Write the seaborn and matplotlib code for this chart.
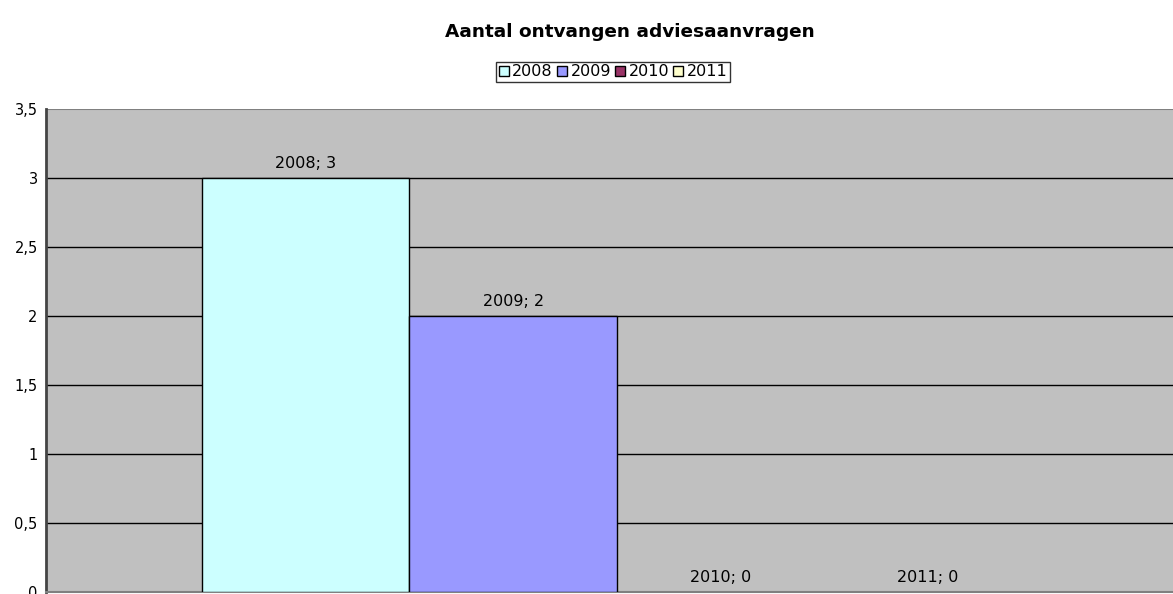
import pandas as pd
import matplotlib.pyplot as plt
import seaborn as sns
from matplotlib.patches import Patch

# --- data ---
jaren = ['2008', '2009', '2010', '2011']
aantallen = [3, 2, 0, 0]
kleuren = ['#CCFFFF', '#9999FF', '#993366', '#FFFFCC']
titel = 'Aantal ontvangen adviesaanvragen'
yticks = [0, 0.5, 1, 1.5, 2, 2.5, 3, 3.5]

df = pd.DataFrame({'groep': ['a'] * len(jaren), 'jaar': jaren, 'aantal': aantallen})

sns.set_style('white')
plt.rcParams['font.family'] = ['DejaVu Sans']
plt.rcParams['text.color'] = 'black'
plt.rcParams['ytick.color'] = 'black'

fig = plt.figure(figsize=(11.73, 5.94), dpi=100)
ax = fig.add_axes([46 / 1173, 2 / 594, 1127 / 1173, 483 / 594])
ax.set_facecolor('#C0C0C0')

sns.barplot(data=df, x='groep', y='aantal', hue='jaar', hue_order=jaren,
            palette=kleuren, width=0.8, edgecolor='black', linewidth=1,
            saturation=1, ax=ax, legend=False, zorder=3)

# balken zonder hoogte geen rand
for cont, v in zip(ax.containers, aantallen):
    if v == 0:
        for p in cont:
            p.set_linewidth(0)

# rasterlijnen
for y in yticks[1:-1]:
    ax.axhline(y, color='black', linewidth=1, zorder=1)

# labels bij de balken
for cont, jaar, v in zip(ax.containers, jaren, aantallen):
    ax.bar_label(cont, labels=[f'{jaar}; {v}'], padding=5, fontsize=11.5,
                 color='black', zorder=4)

ax.set_xlim(-0.5504, 0.536)
ax.set_ylim(0, 3.5)
ax.set_yticks(yticks)
ax.set_yticklabels([f'{t:g}'.replace('.', ',') for t in yticks], fontsize=10.5)
ax.set_xticks([])
ax.set_xlabel('')
ax.set_ylabel('')
ax.tick_params(axis='y', length=4, width=1, color='#333333', direction='out', pad=2)

for kant in ['top', 'right']:
    ax.spines[kant].set_visible(False)
ax.spines['left'].set_color('#444444')
ax.spines['left'].set_linewidth(2)
ax.spines['bottom'].set_color('#808080')
ax.spines['bottom'].set_linewidth(1.5)
ax.axhline(3.5, color='#808080', linewidth=1.5, zorder=2)

# legenda
handles = [Patch(facecolor=k, edgecolor='black', linewidth=1) for k in kleuren]
leg = fig.legend(handles, jaren, loc='center', bbox_to_anchor=(613 / 1173, 1 - 72 / 594),
                 ncol=4, frameon=True, fancybox=False, fontsize=11.5,
                 handlelength=0.65, handleheight=0.65, handletextpad=0.2,
                 columnspacing=0.25, borderpad=0.15, borderaxespad=0)
leg.get_frame().set_edgecolor('black')
leg.get_frame().set_linewidth(1)

fig.text(630 / 1173, 1 - 32 / 594, titel, ha='center', va='center',
         fontsize=13.3, fontweight='heavy')

fig.savefig('out.png', dpi=100)
